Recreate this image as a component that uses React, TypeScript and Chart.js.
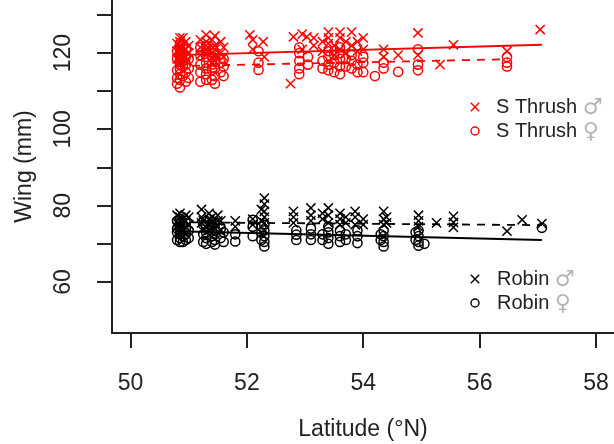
import React, { useEffect, useRef } from 'react';
import { Chart, registerables } from 'chart.js';

Chart.register(...registerables);

const FONT = "'Liberation Sans', Arial, Helvetica, sans-serif";

const xTicks = [50, 52, 54, 56, 58];
const yTicks = [60, 70, 80, 90, 100, 110, 120, 130];
const yLabeled = [60, 80, 100, 120];
const xTitle = 'Latitude (°N)';
const yTitle = 'Wing (mm)';
const seriesNames = ['S Thrush', 'S Thrush', 'Robin', 'Robin'];
const seriesSymbols = ['♂', '♀', '♂', '♀'];

// S Thrush male (crosses)
const thrushMaleLat = [
  50.85, 50.85, 50.85, 50.85, 50.85, 50.85, 50.85, 50.85,
  50.95, 50.95, 50.95, 50.95,
  51.3, 51.3, 51.3, 51.3, 51.3,
  51.45, 51.45, 51.45, 51.45, 51.45,
  51.55, 51.55,
  52.05, 52.1, 52.1,
  52.28, 52.3,
  52.75, 52.8,
  52.95, 53.03, 52.95,
  53.15, 53.15,
  53.4, 53.4, 53.4,
  53.6, 53.6, 53.6,
  53.8, 53.8,
  54.0, 54.0,
  54.35, 54.35,
  54.6,
  54.94, 54.94,
  55.32,
  55.55,
  56.47,
  57.04,
  50.8, 50.8, 50.8, 50.9, 50.9, 50.9, 51.0, 51.0,
  51.2, 51.2, 51.2, 51.4, 51.4, 51.4, 51.6, 51.6,
  53.3, 53.3, 53.5, 53.5, 53.7, 53.7, 53.9, 53.9,
];
const thrushMaleWing = [
  124, 123, 122, 121, 120, 119, 118, 117.5,
  123, 121, 119, 118,
  124.8, 123, 122, 121, 120,
  124.5, 122, 121, 119, 118,
  123, 120,
  124.8, 123.5, 121,
  123, 119,
  112, 124.3,
  125, 124.3, 121,
  124, 122,
  125.5, 124, 122.5,
  125.5, 124, 121,
  125.5, 122,
  124, 121,
  121, 119,
  119.5,
  125.3, 119.5,
  117,
  122.2,
  120.5,
  126.2,
  122.5, 120.5, 118.5, 124, 121.5, 119.5, 122, 120,
  123.5, 121.5, 119.5, 123.5, 120, 117.5, 121.5, 119,
  123, 120.5, 122, 119.5, 123, 120, 123, 120.5,
];

// S Thrush female (circles)
const thrushFemaleLat = [
  50.85, 50.85, 50.85, 50.85, 50.85, 50.85, 50.85, 50.85, 50.85, 50.85,
  50.95, 50.95, 50.95, 50.95, 50.95,
  51.3, 51.3, 51.3, 51.3, 51.3, 51.3, 51.3,
  51.45, 51.45, 51.45, 51.45, 51.45,
  51.55, 51.55,
  52.2, 52.2, 52.2,
  52.9, 52.9, 52.9, 52.9, 52.9,
  53.05, 53.05,
  53.4, 53.4, 53.4, 53.4,
  53.6, 53.6, 53.6, 53.6, 53.6,
  53.8, 53.8, 53.8,
  54.0, 54.0, 54.0,
  54.2,
  54.35, 54.35,
  54.6,
  54.94, 54.94, 54.94,
  56.47, 56.47, 56.47,
  50.8, 50.8, 50.8, 50.8, 50.8, 50.9, 50.9, 50.9, 50.9, 50.9,
  51.0, 51.0, 51.0, 51.2, 51.2, 51.2, 51.2, 51.2,
  51.4, 51.4, 51.4, 51.4, 51.4, 51.6, 51.6, 51.6,
  53.3, 53.3, 53.5, 53.5, 53.5, 53.7, 53.7, 53.9, 53.9,
];
const thrushFemaleWing = [
  111, 113, 114.5, 116, 117, 118, 119, 120, 121, 122.5,
  112.5, 115, 117, 119, 121,
  113, 114.5, 116, 117.5, 119, 120.5, 122,
  112, 114, 116, 118, 120,
  115, 117.5,
  115.6, 117.5, 120.5,
  114.5, 116, 118, 120, 121.5,
  117, 119,
  115.5, 117, 119, 120.5,
  114.5, 116.5, 118.5, 120, 121.5,
  116, 118, 119.5,
  115, 117.5, 119,
  114,
  116, 117.5,
  115.1,
  121, 117, 115.5,
  119, 117.5, 116.5,
  112, 113.5, 115.5, 118.5, 120.5, 114, 116.5, 118, 120, 122,
  113.5, 116, 118.5, 112.5, 115, 117, 119.5, 121.5,
  113, 115.5, 117, 119, 121, 114, 116.5, 118.5,
  116, 118, 115, 117.5, 119.5, 116.5, 118.5, 115, 117,
];

// Robin male (crosses)
const robinMaleLat = [
  50.85, 50.85, 50.85, 50.85, 50.85, 50.85,
  50.95, 50.95, 50.95,
  51.22, 51.22, 51.22,
  51.35, 51.35, 51.35, 51.35,
  51.5, 51.5, 51.5,
  51.8, 51.8,
  52.1, 52.1,
  52.3, 52.3, 52.3, 52.3, 52.3,
  52.8, 52.8, 52.8,
  53.1, 53.1, 53.1,
  53.4, 53.4, 53.4,
  53.6, 53.6, 53.6,
  53.86, 53.86, 53.86,
  54.0, 54.0,
  54.35, 54.35, 54.35,
  54.95, 54.95, 54.95,
  55.26,
  55.55, 55.55, 55.55,
  56.47,
  56.73,
  57.07,
  50.8, 50.8, 50.8, 50.9, 50.9, 51.0, 51.0, 51.25, 51.25,
  51.4, 51.4, 51.55, 51.55, 52.25, 52.25, 53.3, 53.3,
  53.7, 53.7, 54.4, 54.4,
];
const robinMaleWing = [
  78, 77, 76, 75, 74, 73,
  77.5, 76, 74.5,
  79, 77, 75.5,
  78, 76.5, 75, 73.5,
  77.5, 76, 74.5,
  76, 74.5,
  76.5, 75,
  82, 80.4, 78.5, 77, 75.5,
  78.5, 77, 75.5,
  79.4, 77.5, 76,
  79.4, 77.5, 75.5,
  78, 76.5, 75,
  78.5, 77, 75,
  76.5, 75,
  78.5, 76.5, 75,
  77.5, 76, 74.5,
  75.5,
  77.2, 75.6, 74.3,
  73.3,
  76.3,
  75.3,
  77.5, 75.5, 74.5, 76.5, 73.5, 77, 75, 76, 74,
  77, 75.5, 76, 73.5, 79, 76, 76.5, 78,
  77, 75.5, 77, 75.5,
];

// Robin female (circles)
const robinFemaleLat = [
  50.85, 50.85, 50.85, 50.85, 50.85, 50.85, 50.85,
  50.95, 50.95, 50.95, 50.95,
  51.3, 51.3, 51.3, 51.3, 51.3,
  51.45, 51.45, 51.45, 51.45, 51.45,
  51.6, 51.6,
  51.8, 51.8,
  52.1, 52.1, 52.1,
  52.3, 52.3, 52.3, 52.3, 52.3,
  52.85, 52.85, 52.85,
  53.1, 53.1, 53.1,
  53.4, 53.4, 53.4, 53.4,
  53.6, 53.6, 53.6,
  53.9, 53.9, 53.9,
  54.35, 54.35, 54.35, 54.35,
  54.95, 54.95, 54.95, 54.95,
  55.05,
  57.07,
  50.8, 50.8, 50.8, 50.8, 50.9, 50.9, 50.9, 51.0, 51.0,
  51.25, 51.25, 51.25, 51.4, 51.4, 51.4, 51.4, 51.55, 51.55,
  52.25, 52.25, 52.25, 53.3, 53.3, 53.7, 53.7, 54.3, 54.3, 54.9, 54.9,
];
const robinFemaleWing = [
  70.5, 71.5, 72.5, 73.5, 74.5, 75.5, 76.5,
  71, 72.5, 74, 75.5,
  70, 71.5, 73, 74.5, 76,
  69.8, 71, 72.5, 74, 75.5,
  70.5, 73,
  70.6, 72.5,
  76.3, 74.5, 72,
  69.3, 70.5, 72, 73.5, 75,
  72.4, 71, 73.5,
  71, 72.5, 74,
  70, 71.5, 73, 74.5,
  70.5, 72, 73.5,
  70.2, 72, 73.5,
  69.3, 70.5, 72, 73.5,
  69.5, 70.5, 72, 73.5,
  70,
  74.2,
  71, 73, 74, 76, 70.5, 72, 75, 71.5, 73.5,
  70.5, 72.5, 75, 70.5, 72, 73.5, 75, 71.5, 74,
  71, 73, 74.5, 71, 72.5, 71, 72.5, 71, 72.5, 71, 73,
];

// Regression line end points
const thrushMaleFitLat = [50.8, 57.07];
const thrushMaleFitWing = [119.5, 122.2];
const thrushFemaleFitLat = [50.8, 56.48];
const thrushFemaleFitWing = [116.6, 118.4];
const robinMaleFitLat = [50.8, 57.07];
const robinMaleFitWing = [75.65, 74.9];
const robinFemaleFitLat = [50.8, 57.07];
const robinFemaleFitWing = [73.3, 71.0];

const RED = '#ff0000';
const BLACK = '#000000';
const TEXT = '#222222';

const pts = (xs: number[], ys: number[]) => xs.map((x, i) => ({ x, y: ys[i] }));

const legendPlugin = {
  id: 'rLegend',
  afterDraw(chart: any) {
    const { ctx } = chart;
    const entries = [
      { i: 0, color: RED, style: 'cross', mx: 475, tx: 496, y: 107 },
      { i: 1, color: RED, style: 'circle', mx: 475, tx: 496, y: 131 },
      { i: 2, color: BLACK, style: 'cross', mx: 475, tx: 497, y: 279 },
      { i: 3, color: BLACK, style: 'circle', mx: 475, tx: 497, y: 303 },
    ];
    ctx.save();
    ctx.textBaseline = 'middle';
    ctx.textAlign = 'left';
    for (const e of entries) {
      ctx.strokeStyle = e.color;
      ctx.lineWidth = 1.4;
      ctx.beginPath();
      if (e.style === 'cross') {
        const d = 4.2;
        ctx.moveTo(e.mx - d, e.y - d);
        ctx.lineTo(e.mx + d, e.y + d);
        ctx.moveTo(e.mx - d, e.y + d);
        ctx.lineTo(e.mx + d, e.y - d);
      } else {
        ctx.arc(e.mx, e.y, 4, 0, Math.PI * 2);
      }
      ctx.stroke();
      const name = seriesNames[e.i] + ' ';
      ctx.font = `20px ${FONT}`;
      ctx.fillStyle = TEXT;
      ctx.fillText(name, e.tx, e.y);
      const w = ctx.measureText(name).width;
      ctx.font = `22px 'DejaVu Sans', sans-serif`;
      ctx.fillStyle = '#b4b4b4';
      ctx.fillText(seriesSymbols[e.i], e.tx + w, e.y + 1);
    }
    ctx.restore();
  },
};

export default function App() {
  const ref = useRef<HTMLCanvasElement>(null);
  useEffect(() => {
    document.body.style.margin = '0';
    const canvas = ref.current!;
    const axisGrid = {
      drawOnChartArea: false,
      drawTicks: true,
      tickLength: 15,
      color: TEXT,
      lineWidth: 2,
    };
    const scatterDs = (label: string, data: any[], style: string, r: number, color: string) => ({
      label,
      data,
      pointStyle: style,
      pointRadius: r,
      borderColor: color,
      backgroundColor: 'transparent',
      pointBorderWidth: 1.5,
    });
    const lineDs = (label: string, data: any[], color: string, dash: number[]) => ({
      type: 'line',
      label,
      data,
      borderColor: color,
      borderWidth: 1.8,
      borderDash: dash,
      pointRadius: 0,
      showLine: true,
      fill: false,
    });
    const chart = new Chart(canvas, {
      type: 'scatter',
      data: {
        datasets: [
          scatterDs('S Thrush ♂', pts(thrushMaleLat, thrushMaleWing), 'crossRot', 6.5, RED),
          scatterDs('S Thrush ♀', pts(thrushFemaleLat, thrushFemaleWing), 'circle', 4.6, RED),
          scatterDs('Robin ♂', pts(robinMaleLat, robinMaleWing), 'crossRot', 6.5, BLACK),
          scatterDs('Robin ♀', pts(robinFemaleLat, robinFemaleWing), 'circle', 4.6, BLACK),
          lineDs('fit S Thrush ♂', pts(thrushMaleFitLat, thrushMaleFitWing), RED, []),
          lineDs('fit S Thrush ♀', pts(thrushFemaleFitLat, thrushFemaleFitWing), RED, [8, 7]),
          lineDs('fit Robin ♂', pts(robinMaleFitLat, robinMaleFitWing), BLACK, [8, 7]),
          lineDs('fit Robin ♀', pts(robinFemaleFitLat, robinFemaleFitWing), BLACK, []),
        ],
      },
      options: {
        responsive: false,
        animation: false,
        devicePixelRatio: 1,
        layout: { padding: 0, autoPadding: false },
        plugins: {
          legend: { display: false },
          tooltip: { enabled: false },
        },
        scales: {
          x: {
            type: 'linear',
            min: 49.682,
            max: 58.309,
            grid: axisGrid,
            border: { display: true, color: TEXT, width: 2 },
            afterBuildTicks: (scale: any) => {
              scale.ticks = xTicks.map((v) => ({ value: v }));
            },
            afterFit: (scale: any) => {
              scale.height = 111;
              scale.paddingLeft = 0;
              scale.paddingRight = 0;
            },
            ticks: {
              color: TEXT,
              font: { family: FONT, size: 23 },
              padding: 22,
              maxRotation: 0,
              autoSkip: false,
              callback: (v: any) => String(v),
            },
            title: {
              display: true,
              text: xTitle,
              color: TEXT,
              font: { family: FONT, size: 23 },
              padding: { top: 0, bottom: 1 },
            },
          },
          y: {
            type: 'linear',
            min: 46.61,
            max: 133.94,
            grid: axisGrid,
            border: { display: true, color: TEXT, width: 2 },
            afterBuildTicks: (scale: any) => {
              scale.ticks = yTicks.map((v) => ({ value: v }));
            },
            afterFit: (scale: any) => {
              scale.width = 112;
              scale.paddingTop = 0;
              scale.paddingBottom = 0;
            },
            ticks: {
              color: TEXT,
              font: { family: FONT, size: 23 },
              padding: 14,
              minRotation: 90,
              maxRotation: 90,
              crossAlign: 'center',
              autoSkip: false,
              callback: (v: any) => (yLabeled.includes(v) ? String(v) : ''),
            },
            title: {
              display: true,
              text: yTitle,
              color: TEXT,
              font: { family: FONT, size: 23 },
              padding: { top: 11, bottom: 0 },
            },
          },
        },
      },
      plugins: [legendPlugin],
    } as any);
    return () => chart.destroy();
  }, []);
  return (
    <div style={{ position: 'fixed', left: 0, top: 0, width: 614, height: 444, background: '#fff' }}>
      <canvas ref={ref} width={614} height={444} style={{ display: 'block', width: 614, height: 444 }} />
    </div>
  );
}
